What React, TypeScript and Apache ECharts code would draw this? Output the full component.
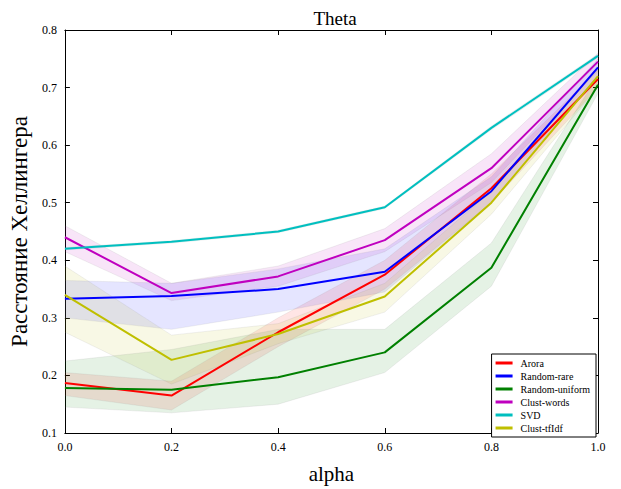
import React, { useEffect, useRef } from "react";
import * as echarts from "echarts";

const alphas = ["0.0", "0.2", "0.4", "0.6", "0.8", "1.0"];
const seriesNames = ["Arora", "Random-rare", "Random-uniform", "Clust-words", "SVD", "Clust-tfIdf"];
const colors = ["#ff0000", "#0000ff", "#008000", "#bf00bf", "#00bfbf", "#bfbf00"];

const arora = [0.187, 0.165, 0.275, 0.375, 0.525, 0.715];
const randomRare = [0.333, 0.338, 0.35, 0.38, 0.52, 0.735];
const randomUniform = [0.178, 0.175, 0.197, 0.24, 0.387, 0.705];
const clustWords = [0.44, 0.343, 0.372, 0.435, 0.56, 0.745];
const svd = [0.42, 0.432, 0.45, 0.492, 0.63, 0.755];
const clustTfidf = [0.34, 0.227, 0.272, 0.337, 0.5, 0.72];

const aroraLow = [0.165, 0.14, 0.25, 0.35, 0.5, 0.7];
const aroraHigh = [0.205, 0.19, 0.3, 0.4, 0.55, 0.73];
const rareLow = [0.3, 0.28, 0.31, 0.345, 0.5, 0.72];
const rareHigh = [0.365, 0.36, 0.385, 0.42, 0.545, 0.75];
const uniformLow = [0.145, 0.135, 0.15, 0.205, 0.355, 0.69];
const uniformHigh = [0.225, 0.245, 0.28, 0.28, 0.43, 0.72];
const wordsLow = [0.415, 0.33, 0.355, 0.415, 0.535, 0.73];
const wordsHigh = [0.46, 0.36, 0.39, 0.455, 0.585, 0.76];
const svdLow = [0.418, 0.43, 0.448, 0.49, 0.627, 0.752];
const svdHigh = [0.422, 0.434, 0.452, 0.494, 0.633, 0.758];
const tfidfLow = [0.275, 0.185, 0.255, 0.31, 0.48, 0.7];
const tfidfHigh = [0.39, 0.27, 0.29, 0.36, 0.52, 0.735];

const means = [arora, randomRare, randomUniform, clustWords, svd, clustTfidf];
const lows = [aroraLow, rareLow, uniformLow, wordsLow, svdLow, tfidfLow];
const highs = [aroraHigh, rareHigh, uniformHigh, wordsHigh, svdHigh, tfidfHigh];

const FONT = "Liberation Serif";

export default function App() {
  const ref = useRef<HTMLDivElement>(null);
  useEffect(() => {
    if (!ref.current) return;
    const chart = echarts.init(ref.current, null, { renderer: "svg" });
    const bandSeries: any[] = [];
    const lineSeries: any[] = [];
    seriesNames.forEach((name, i) => {
      const stack = "band" + i;
      bandSeries.push({
        type: "line",
        name: name + "_low",
        data: lows[i],
        stack,
        symbol: "none",
        silent: true,
        lineStyle: { color: "#888", width: 1, opacity: 0.12 },
        z: 1,
      });
      bandSeries.push({
        type: "line",
        name: name + "_band",
        data: highs[i].map((h, j) => +(h - lows[i][j]).toFixed(4)),
        stack,
        symbol: "none",
        silent: true,
        lineStyle: { color: "#888", width: 1, opacity: 0.12 },
        areaStyle: { color: colors[i], opacity: 0.1 },
        z: 1,
      });
      lineSeries.push({
        type: "line",
        name,
        data: means[i],
        symbol: "none",
        lineStyle: { color: colors[i], width: 2 },
        itemStyle: { color: colors[i] },
        z: 3,
      });
    });

    const axisCommon = {
      axisLine: { show: true, onZero: false, lineStyle: { color: "#000", width: 1 } },
      axisTick: { show: true, inside: true, length: 5, lineStyle: { color: "#000" } },
      splitLine: { show: false },
    };

    chart.setOption({
      animation: false,
      backgroundColor: "#fff",
      textStyle: { fontFamily: FONT },
      title: {
        text: "Theta",
        left: 330,
        top: 4,
        textAlign: "center",
        textStyle: { fontFamily: FONT, fontSize: 19, fontWeight: "normal", color: "#000" },
      },
      grid: { left: 63, right: 23, top: 30, bottom: 49, containLabel: false },
      xAxis: [
        {
          type: "category",
          data: alphas,
          boundaryGap: false,
          position: "bottom",
          name: "alpha",
          nameLocation: "middle",
          nameGap: 30,
          nameTextStyle: { fontFamily: FONT, fontSize: 21, color: "#000" },
          axisLabel: { fontFamily: FONT, fontSize: 12, color: "#000", margin: 8 },
          ...axisCommon,
        },
        {
          type: "category",
          data: alphas,
          boundaryGap: false,
          position: "top",
          axisLabel: { show: false },
          ...axisCommon,
        },
      ],
      yAxis: [
        {
          type: "value",
          min: 0.1,
          max: 0.8,
          interval: 0.1,
          position: "left",
          name: "Расстояние Хеллингера",
          nameLocation: "middle",
          nameGap: 29,
          nameTextStyle: { fontFamily: FONT, fontSize: 23, color: "#000" },
          axisLabel: {
            fontFamily: FONT,
            fontSize: 12,
            color: "#000",
            margin: 8,
            formatter: (v: number) => v.toFixed(1),
          },
          ...axisCommon,
        },
        {
          type: "value",
          min: 0.1,
          max: 0.8,
          interval: 0.1,
          position: "right",
          axisLabel: { show: false },
          ...axisCommon,
        },
      ],
      legend: {
        data: seriesNames.map((n, i) => ({ name: n, itemStyle: { color: colors[i] } })),
        orient: "vertical",
        right: 25,
        bottom: 52,
        itemWidth: 17,
        itemHeight: 3,
        itemGap: 3,
        icon: "rect",
        borderColor: "#000",
        borderWidth: 1,
        borderRadius: 0,
        padding: [4, 6, 4, 4],
        backgroundColor: "#fff",
        textStyle: { fontFamily: FONT, fontSize: 10, color: "#000", padding: [0, 0, 0, 3] },
      },
      series: [...bandSeries, ...lineSeries],
    });
    return () => chart.dispose();
  }, []);
  return (
    <div
      ref={ref}
      style={{ position: "fixed", left: 0, top: 0, width: 621, height: 489, background: "#fff" }}
    />
  );
}
